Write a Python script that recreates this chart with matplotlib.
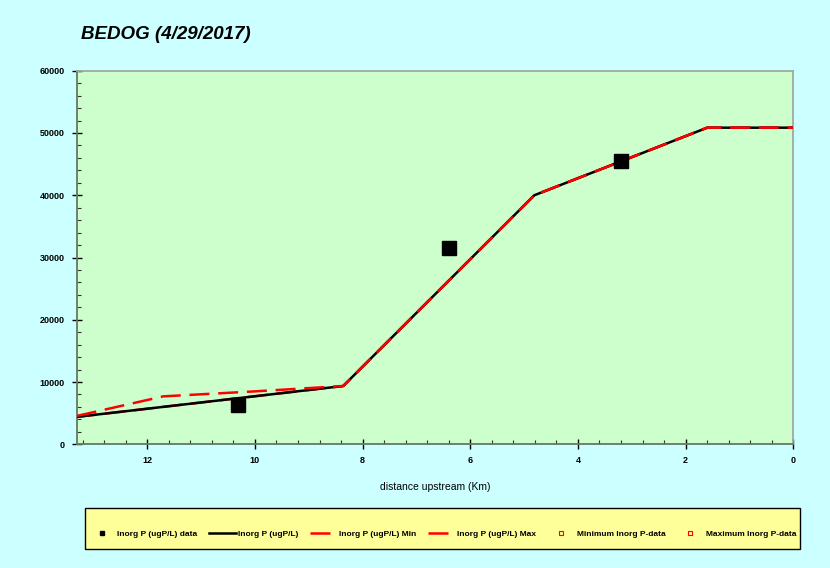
import matplotlib
matplotlib.use("Agg")
import matplotlib.pyplot as plt
from matplotlib.ticker import MultipleLocator, FixedLocator
from matplotlib.patches import Rectangle

# ---- data ----
dist_model = [13.31, 8.36, 4.81, 1.60, 0.0]
inorg_p = [4400, 9360, 40000, 50850, 50850]
inorg_p_min = [4400, 9360, 40000, 50850, 50850]
dist_max = [13.31, 11.7, 10.0, 8.36, 4.81, 1.60, 0.0]
inorg_p_max = [4550, 7700, 8500, 9360, 40000, 50850, 50850]
dist_data = [10.32, 6.39, 3.20]
inorg_p_data = [6270, 31460, 45550]
min_data_x, min_data_y = [], []
max_data_x, max_data_y = [], []

title = "BEDOG (4/29/2017)"
xlabel = "distance upstream (Km)"
xticks = [12, 10, 8, 6, 4, 2, 0]
yticks = [0, 10000, 20000, 30000, 40000, 50000, 60000]

FAM = ['Liberation Sans Narrow', 'Liberation Sans', 'DejaVu Sans']

fig = plt.figure(figsize=(8.3, 5.68), dpi=100, facecolor='#ccffff')
ax = fig.add_axes([0.0924, 0.2178, 0.8634, 0.6577])
ax.set_facecolor('#ccffcc')

lw = 1.8
ax.plot(dist_model, inorg_p_min, color='red', lw=lw, dashes=(8, 3.5), zorder=2,
        label='Inorg P (ugP/L) Min')
ax.plot(dist_model, inorg_p, color='black', lw=lw, zorder=3, label='Inorg P (ugP/L)')
ax.plot(dist_max, inorg_p_max, color='red', lw=lw, dashes=(8, 3.5), zorder=4,
        label='Inorg P (ugP/L) Max')
ax.plot(dist_data, inorg_p_data, ls='none', marker='s', ms=10.5, color='black', zorder=5,
        label='Inorg P (ugP/L) data')
ax.plot(min_data_x, min_data_y, ls='none', marker='s', ms=3.5, mfc='none', mec='red', mew=0.8,
        label='Minimum Inorg P-data')
ax.plot(max_data_x, max_data_y, ls='none', marker='s', ms=3.5, mfc='none', mec='red', mew=0.8,
        label='Maximum Inorg P-data')

ax.set_xlim(13.31, 0)
ax.set_ylim(0, 60000)
ax.xaxis.set_major_locator(FixedLocator(xticks))
ax.xaxis.set_minor_locator(MultipleLocator(0.4))
ax.yaxis.set_major_locator(FixedLocator(yticks))
ax.yaxis.set_minor_locator(MultipleLocator(2000))
ax.set_xticklabels([str(t) for t in xticks], family=FAM, fontsize=6.5, fontweight='bold')
ax.set_yticklabels([str(t) for t in yticks], family=FAM, fontsize=6.5, fontweight='bold')
ax.tick_params(which='major', direction='inout', length=7, width=1, color='black')
ax.tick_params(axis='y', which='major', pad=5)
ax.tick_params(axis='x', which='major', pad=5)
ax.tick_params(which='minor', direction='in', length=3, width=0.8, color='#333333')

for s in ['left', 'bottom']:
    ax.spines[s].set_color('#667766')
    ax.spines[s].set_linewidth(1.3)
for s in ['top', 'right']:
    ax.spines[s].set_color('#a0a8a0')
    ax.spines[s].set_linewidth(1.3)

ax.set_xlabel(xlabel, family=FAM, fontsize=7.5, labelpad=12)

fig.text(0.097, 0.94, title, family=FAM, fontsize=13.5, fontweight='bold',
         fontstyle='italic', va='center', ha='left')

# legend box
fig.patches.append(Rectangle((85 / 830, 1 - 549 / 568), 715 / 830, 41 / 568,
                             transform=fig.transFigure, facecolor='#ffff99',
                             edgecolor='black', linewidth=1.0, zorder=0))

handles, labels = ax.get_legend_handles_labels()
order = [3, 1, 0, 2, 4, 5]
leg = fig.legend([handles[i] for i in order], [labels[i] for i in order],
                 loc='center', ncol=6, mode='expand',
                 bbox_to_anchor=(0.1024, 1 - 542 / 568, 0.8614, 16 / 568),
                 bbox_transform=fig.transFigure,
                 prop={'family': FAM, 'size': 6, 'weight': 'bold'},
                 frameon=False,
                 handlelength=3.2, handletextpad=0.3, columnspacing=0.8, borderaxespad=0)
for h in leg.legend_handles:
    if h.get_marker() == 's' and h.get_markerfacecolor() == 'black':
        h.set_markersize(3.5)

fig.savefig('out.png', dpi=100, facecolor=fig.get_facecolor())
